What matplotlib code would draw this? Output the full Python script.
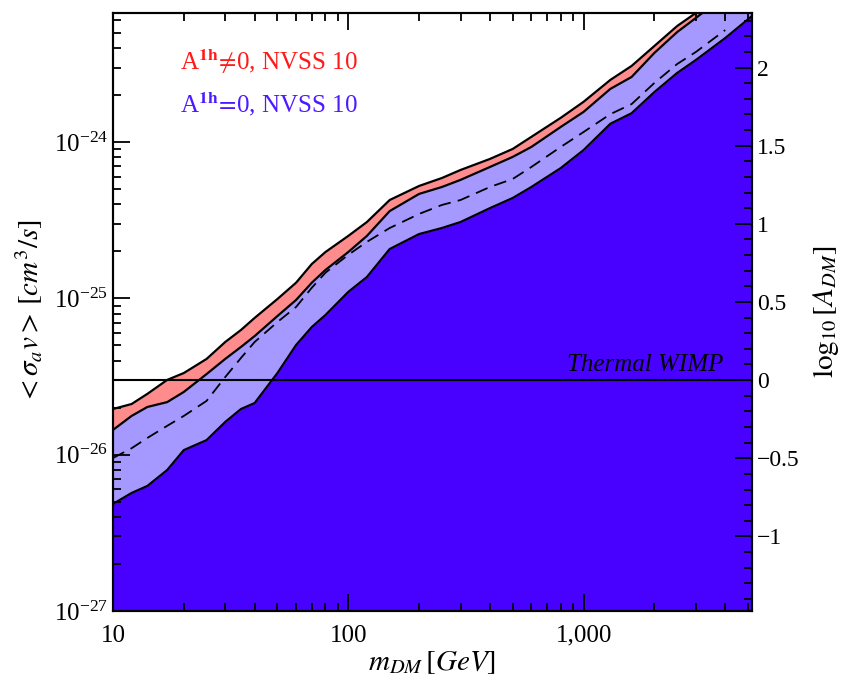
import numpy as np
import matplotlib
matplotlib.use("Agg")
import matplotlib.pyplot as plt
from matplotlib.ticker import (FixedLocator, LogLocator, LogFormatterMathtext, FuncFormatter,
                               MultipleLocator, NullFormatter)

plt.rcParams['font.family'] = 'serif'
plt.rcParams['font.serif'] = ['Liberation Serif', 'DejaVu Serif']
plt.rcParams['mathtext.fontset'] = 'stix'

# dark matter mass grid [GeV]
mass = [10, 12, 14, 17, 20, 25, 30, 35, 40, 50, 60, 70, 80, 100, 120, 150, 200, 250,
        300, 400, 500, 600, 800, 1000, 1300, 1600, 2000, 2500, 3000, 4000, 5200]

# A^1h != 0 band, upper edge
red_upper = [1.96e-26, 2.11e-26, 2.45e-26, 3.01e-26, 3.33e-26, 4.10e-26, 5.26e-26, 6.28e-26,
             7.50e-26, 9.91e-26, 1.26e-25, 1.66e-25, 1.98e-25, 2.51e-25, 3.08e-25, 4.26e-25,
             5.24e-25, 5.89e-25, 6.63e-25, 7.80e-25, 9.04e-25, 1.08e-24, 1.43e-24, 1.81e-24,
             2.50e-24, 3.07e-24, 4.12e-24, 5.53e-24, 6.70e-24, 9.7e-24, 1.3e-23]

# A^1h = 0 limit (upper edge of light blue)
red_lower = [1.44e-26, 1.77e-26, 2.02e-26, 2.17e-26, 2.52e-26, 3.28e-26, 4.10e-26, 4.89e-26,
             5.74e-26, 7.71e-26, 9.77e-26, 1.26e-25, 1.52e-25, 1.98e-25, 2.51e-25, 3.62e-25,
             4.66e-25, 5.16e-25, 5.73e-25, 6.93e-25, 8.04e-25, 9.31e-25, 1.25e-24, 1.56e-24,
             2.19e-24, 2.61e-24, 3.72e-24, 5.06e-24, 6.22e-24, 8.7e-24, 1.2e-23]

# dashed curve (up to 4 TeV)
dashed = [9.52e-27, 1.10e-26, 1.28e-26, 1.53e-26, 1.77e-26, 2.21e-26, 3.14e-26, 4.16e-26,
          5.26e-26, 7.06e-26, 8.81e-26, 1.17e-25, 1.46e-25, 1.90e-25, 2.30e-25, 2.82e-25,
          3.47e-25, 3.96e-25, 4.26e-25, 5.16e-25, 5.81e-25, 6.93e-25, 9.31e-25, 1.16e-24,
          1.51e-24, 1.75e-24, 2.39e-24, 3.16e-24, 3.77e-24, 5.21e-24]

# lower edge of the light blue band
dark = [4.84e-27, 5.69e-27, 6.31e-27, 7.98e-27, 1.07e-26, 1.24e-26, 1.62e-26, 1.96e-26,
        2.14e-26, 3.33e-26, 5.03e-26, 6.56e-26, 7.83e-26, 1.10e-25, 1.37e-25, 2.07e-25,
        2.58e-25, 2.82e-25, 3.08e-25, 3.78e-25, 4.39e-25, 5.16e-25, 6.82e-25, 8.89e-25,
        1.31e-24, 1.53e-24, 2.09e-24, 2.77e-24, 3.35e-24, 4.63e-24, 6.41e-24]

thermal = 3e-26
xlim = (10, 5200)
ylim = (1e-27, 6.7e-24)
x_major = [10, 100, 1000]
y_major = [1e-27, 1e-26, 1e-25, 1e-24]
a_major = [-1, -0.5, 0, 0.5, 1, 1.5, 2]

c_red = '#ff8c8c'
c_light = '#a599ff'
c_dark = '#4800ff'

fig = plt.figure(figsize=(8.45, 6.82), dpi=100)
ax = fig.add_axes([0.1337, 0.1041, 0.7563, 0.8769])
ax.set_xscale('log')
ax.set_yscale('log')

ax.fill_between(mass, ylim[0], dark, color=c_dark, lw=0, zorder=1)
ax.fill_between(mass, dark, red_lower, color=c_light, lw=0, zorder=1)
ax.fill_between(mass, red_lower, red_upper, color=c_red, lw=0, zorder=1)

ax.plot(mass, red_upper, color='k', lw=1.6, zorder=3)
ax.plot(mass, red_lower, color='k', lw=1.6, zorder=3)
ax.plot(mass, dark, color='k', lw=1.6, zorder=3)
ax.plot(mass[:len(dashed)], dashed, color='k', lw=1.3, dashes=(7, 4), zorder=3)
ax.axhline(thermal, color='k', lw=1.5, zorder=4)

ax.set_xlim(*xlim)
ax.set_ylim(*ylim)

ax.text(1830, thermal * 1.06, 'Thermal WIMP', style='italic', fontsize=18,
        ha='center', va='bottom', zorder=5)
ax.text(0.105, 0.905, r'A$^{\mathbf{1h}}\!\neq\!$0, NVSS 10', color='#ff1a1a',
        fontsize=18, transform=ax.transAxes, va='baseline')
ax.text(0.105, 0.834, r'A$^{\mathbf{1h}}\!=\!$0, NVSS 10', color='#4d1aff',
        fontsize=18, transform=ax.transAxes, va='baseline')

ax.xaxis.set_major_locator(FixedLocator(x_major))
ax.xaxis.set_major_formatter(FuncFormatter(lambda v, _: f"{int(round(v)):,}"))
ax.xaxis.set_minor_locator(LogLocator(base=10, subs=np.arange(2, 10), numticks=20))
ax.xaxis.set_minor_formatter(NullFormatter())
ax.yaxis.set_major_locator(FixedLocator(y_major))
ax.yaxis.set_major_formatter(LogFormatterMathtext())
ax.yaxis.set_minor_locator(LogLocator(base=10, subs=np.arange(2, 10), numticks=20))
ax.yaxis.set_minor_formatter(NullFormatter())

ax.tick_params(which='both', direction='in', top=True, right=False, labelsize=18, width=1.3)
ax.tick_params(which='major', length=12)
ax.tick_params(which='minor', length=6)
ax.tick_params(axis='x', pad=10)
for s in ax.spines.values():
    s.set_linewidth(1.5)

ax.set_xlabel(r'$m_{DM}\,[GeV]$', fontsize=21, labelpad=2)
ax.set_ylabel(r'$<\sigma_a v>\,[cm^3/s]$', fontsize=21, labelpad=6)

ax2 = ax.twinx()
ax2.set_ylim(np.log10(ylim[0] / thermal), np.log10(ylim[1] / thermal))
ax2.yaxis.set_major_locator(FixedLocator(a_major))
ax2.yaxis.set_minor_locator(MultipleLocator(0.1))
ax2.yaxis.set_major_formatter(FuncFormatter(lambda v, _: f"{v:g}".replace('-', '\u2212')))
ax2.tick_params(which='both', direction='in', labelsize=17, width=1.3)
ax2.tick_params(which='major', length=12)
ax2.tick_params(which='minor', length=6)
ax2.set_ylabel(r'$\log_{10}[A_{DM}]$', fontsize=21, labelpad=8)
for s in ax2.spines.values():
    s.set_linewidth(1.5)

fig.savefig('out.png', dpi=100)
